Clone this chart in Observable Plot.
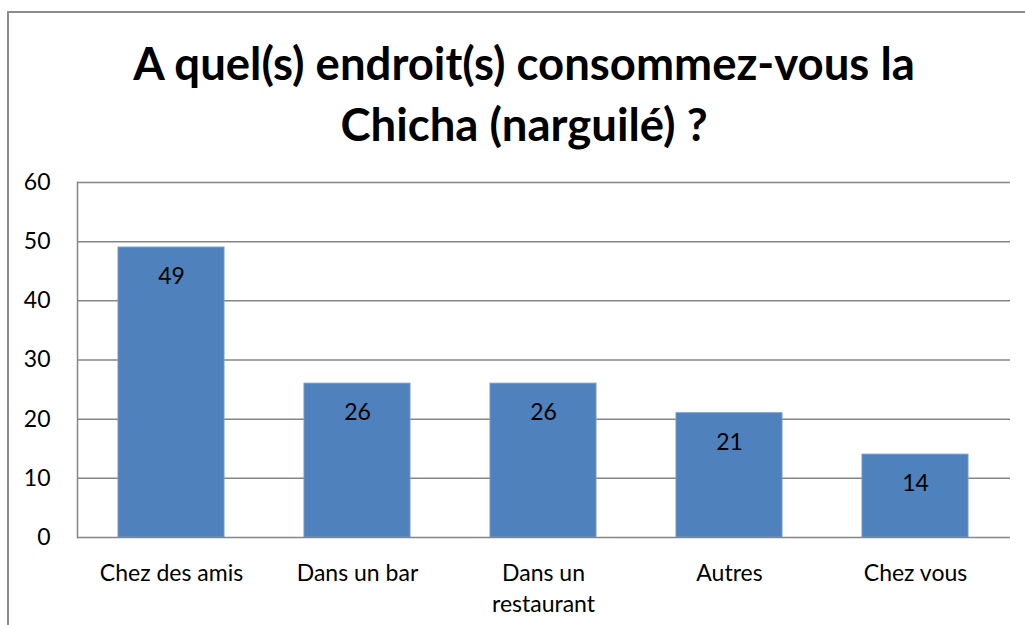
<!DOCTYPE html>
<html><head><meta charset="utf-8">
<script src="https://cdn.jsdelivr.net/npm/d3@7"></script>
<script src="https://cdn.jsdelivr.net/npm/@observablehq/plot@0.6"></script>
<style>
body{margin:0;background:#fff;}
#wrap{position:relative;width:1025px;height:625px;overflow:hidden;font-family:Lato,"Open Sans",sans-serif;}
#frame{position:absolute;left:7px;top:11px;width:1040px;height:640px;border:2px solid #8c8c8c;box-sizing:border-box;}
#title{position:absolute;left:0;top:32px;width:1048px;text-align:center;font-weight:bold;font-size:45.5px;line-height:61px;color:#000;}
#chart{position:absolute;left:0;top:160px;}
</style></head>
<body><div id="wrap"><div id="frame"></div>
<div id="title">A quel(s) endroit(s) consommez-vous la<br>Chicha (narguilé) ?</div>
<div id="chart"></div></div>
<script>
const categories = ["Chez des amis","Dans un bar","Dans un restaurant","Autres","Chez vous"];
const values = [49,26,26,21,14];
const tickLabels = ["Chez des amis","Dans un bar","Dans un\nrestaurant","Autres","Chez vous"];
const yTicks = [0,10,20,30,40,50,60];
const data = categories.map((c,i)=>({cat:c, v:values[i]}));
const plot = Plot.plot({
  width:1025, height:465,
  marginTop:22, marginBottom:88, marginLeft:77, marginRight:15,
  style:{fontFamily:"Lato, 'Open Sans', sans-serif", fontSize:"23px", color:"#000", background:"transparent", overflow:"visible"},
  x:{domain:categories, paddingInner:0.43, paddingOuter:0.215, label:null},
  y:{domain:[0,60], label:null},
  marks:[
    Plot.gridY(yTicks.filter(d=>d>0), {stroke:"#868686", strokeOpacity:1, strokeWidth:1.5}),
    Plot.barY(data,{x:"cat", y:"v", fill:"#4F81BD", stroke:"#6f97c9", strokeWidth:1}),
    Plot.ruleY([0],{stroke:"#868686", strokeWidth:1.5}),
    Plot.frame({anchor:"left", stroke:"#868686", strokeWidth:1.5}),
    Plot.axisY({ticks:yTicks, tickSize:0, tickPadding:27, fontSize:23, label:null}),
    Plot.axisX({tickSize:0, tickPadding:21, fontSize:23, lineHeight:1.35, label:null, tickFormat:(d)=>tickLabels[categories.indexOf(d)]}),
    Plot.text(data,{x:"cat", y:"v", text:d=>String(d.v), dy:29, fontSize:23, fill:"#000"})
  ]
});
document.getElementById("chart").appendChild(plot);
</script></body></html>
